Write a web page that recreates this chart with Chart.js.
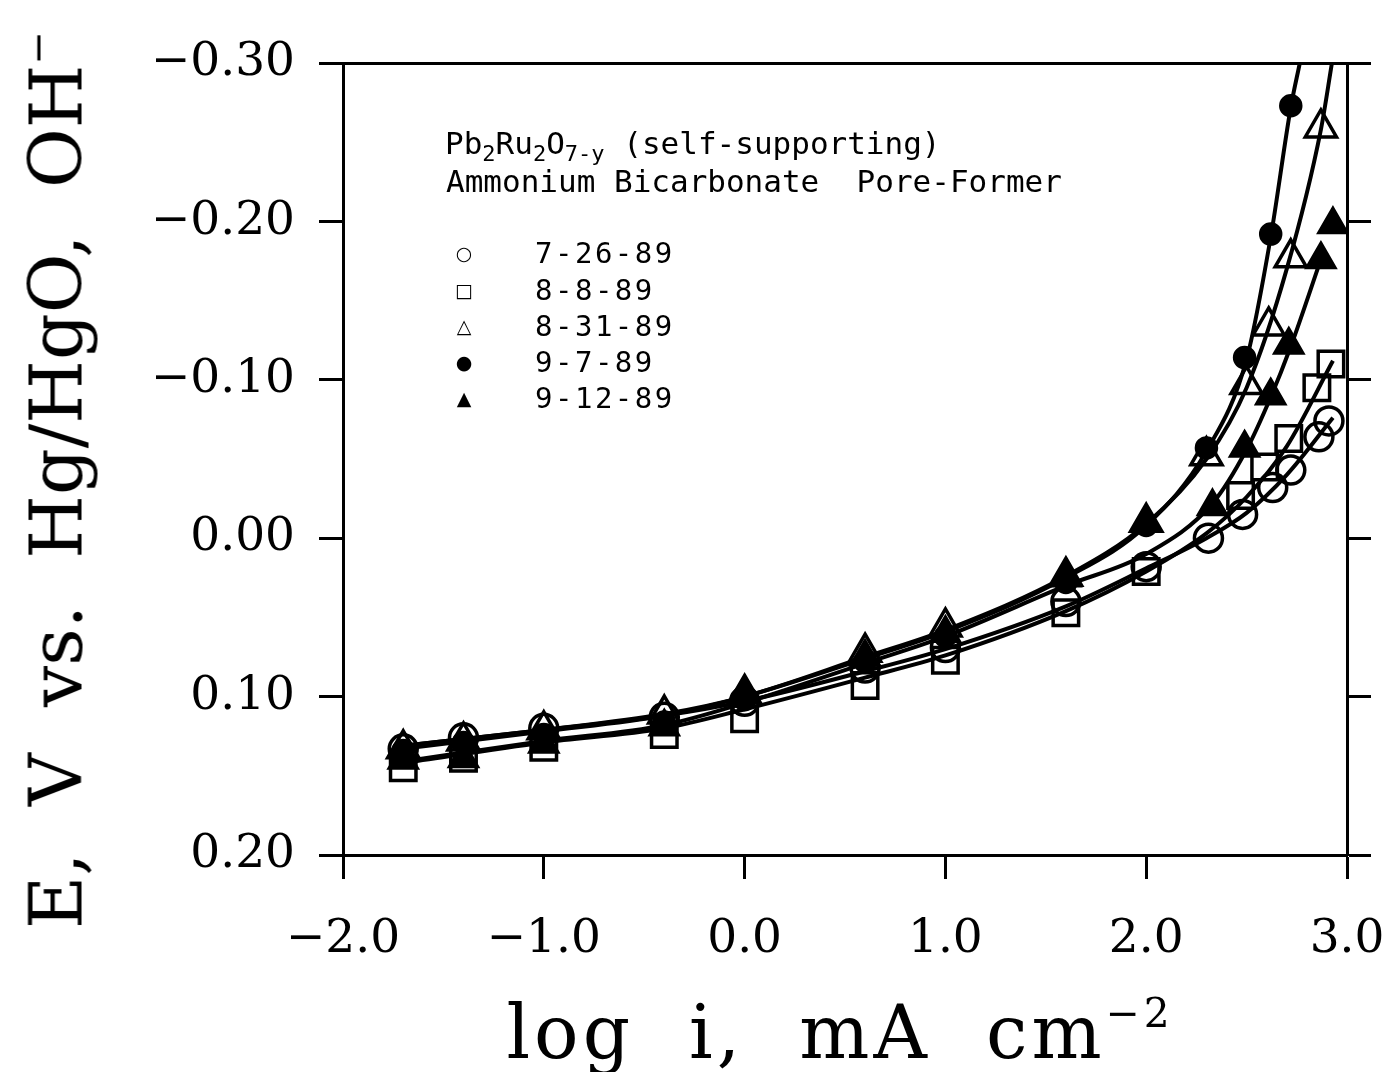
<!DOCTYPE html>
<html>
<head>
<meta charset="utf-8">
<script src="https://cdn.jsdelivr.net/npm/chart.js@4.4.0/dist/chart.umd.min.js"></script>
<style>
  body { margin: 0; background: #fff; }
  #wrap { position: relative; width: 1387px; height: 1072px; overflow: hidden; }
  #chart { position: absolute; left: 0; top: 0; }
  .note { position: absolute; font-family: 'DejaVu Sans Mono', monospace; font-size: 31px; color: #000; white-space: pre; line-height: 1; }
  .note sub { font-size: 22px; vertical-align: -7px; line-height: 0; }
  .key { position: absolute; left: 450px; font-family: 'DejaVu Sans Mono', monospace; font-size: 29px; letter-spacing: 2.5px; white-space: pre; line-height: 1; }
  .key .mk { display: inline-block; width: 28px; text-align: center; font-family: 'DejaVu Sans', sans-serif; font-size: 19px; letter-spacing: 0; margin-right: 57px; vertical-align: 3px; }
  #ytitle { position: absolute; left: 56px; top: 480px; transform: translate(-50%, -50%) rotate(-90deg); font-family: 'DejaVu Serif', serif; font-size: 73px; white-space: pre; line-height: 1; }
  #ytitle sup, #xtitle sup { font-size: 0.55em; vertical-align: 0.75em; line-height: 0; }
  #xtitle { position: absolute; left: 840px; top: 995px; transform: translateX(-50%); font-family: 'DejaVu Serif', serif; font-size: 74px; letter-spacing: 4px; white-space: pre; line-height: 1; }
</style>
</head>
<body>
<div id="wrap">
  <canvas id="chart" width="1387" height="1072"></canvas>
  <div id="ytitle">E,  V  vs.  Hg/HgO,  OH<sup>−</sup></div>
  <div id="xtitle">log  i,  mA  cm<sup>−2</sup></div>
  <div class="note" style="left:445px; top:128px;">Pb<sub>2</sub>Ru<sub>2</sub>O<sub>7-y</sub> (self-supporting)</div>
  <div class="note" style="left:446px; top:166px;">Ammonium Bicarbonate  Pore-Former</div>
  <div id="legend"></div>
</div>
<script>
// Series 7-26-89 (open circles)
const circX = [-1.7, -1.4, -1.0, -0.4, 0.0, 0.6, 1.0, 1.6, 2.0, 2.31, 2.48, 2.63, 2.72, 2.86, 2.91];
const circY = [0.133, 0.126, 0.120, 0.113, 0.103, 0.082, 0.069, 0.040, 0.018, 0.000, -0.015, -0.032, -0.043, -0.064, -0.074];
// Series 8-8-89 (open squares)
const sqX = [-1.7, -1.4, -1.0, -0.4, 0.0, 0.6, 1.0, 1.6, 2.0, 2.47, 2.59, 2.71, 2.85, 2.92];
const sqY = [0.145, 0.139, 0.132, 0.124, 0.114, 0.093, 0.077, 0.047, 0.021, -0.027, -0.045, -0.063, -0.095, -0.110];
// Series 8-31-89 (open triangles)
const triX = [-1.7, -1.4, -1.0, -0.4, 0.0, 0.6, 1.0, 1.6, 2.0, 2.3, 2.5, 2.61, 2.72, 2.87];
const triY = [0.133, 0.128, 0.121, 0.111, 0.098, 0.072, 0.056, 0.024, -0.010, -0.052, -0.097, -0.134, -0.177, -0.259];
// Series 9-7-89 (filled circles)
const dotX = [-1.7, -1.4, -1.0, -0.4, 0.0, 0.6, 1.0, 1.6, 2.0, 2.3, 2.49, 2.62, 2.72];
const dotY = [0.134, 0.129, 0.124, 0.116, 0.102, 0.078, 0.062, 0.028, -0.008, -0.057, -0.114, -0.192, -0.273];
// Series 9-12-89 (filled triangles)
const ftriX = [-1.7, -1.4, -1.0, -0.4, 0.0, 0.6, 1.0, 1.6, 2.0, 2.33, 2.49, 2.62, 2.71, 2.87, 2.93];
const ftriY = [0.140, 0.139, 0.130, 0.119, 0.098, 0.075, 0.060, 0.025, -0.010, -0.020, -0.057, -0.090, -0.122, -0.176, -0.198];

// Fitted curves
const circFitX = [-1.7, -1.0, -0.4, 0.0, 0.6, 1.0, 1.6, 2.0, 2.3, 2.5, 2.7, 2.93];
const circFitY = [0.131, 0.121, 0.112, 0.103, 0.084, 0.070, 0.043, 0.019, 0.000, -0.016, -0.040, -0.076];
const sqFitX = [-1.7, -1.0, -0.4, 0.0, 0.6, 1.0, 1.6, 2.0, 2.3, 2.5, 2.7, 2.93];
const sqFitY = [0.142, 0.129, 0.120, 0.108, 0.088, 0.074, 0.046, 0.021, -0.003, -0.026, -0.058, -0.112];
const triFitX = [-1.7, -1.0, -0.4, 0.0, 0.6, 1.0, 1.6, 2.0, 2.3, 2.5, 2.7, 2.87, 2.925];
const triFitY = [0.131, 0.121, 0.111, 0.100, 0.075, 0.058, 0.024, -0.009, -0.050, -0.095, -0.170, -0.258, -0.300];
const dotFitX = [-1.7, -1.0, -0.4, 0.0, 0.6, 1.0, 1.6, 2.0, 2.3, 2.5, 2.62, 2.72, 2.765];
const dotFitY = [0.133, 0.122, 0.112, 0.100, 0.076, 0.059, 0.025, -0.008, -0.055, -0.113, -0.190, -0.272, -0.300];
const ftriFitX = [-1.7, -1.0, -0.4, 0.0, 0.6, 1.0, 1.6, 2.0, 2.33, 2.5, 2.62, 2.72, 2.87];
const ftriFitY = [0.141, 0.128, 0.118, 0.104, 0.079, 0.062, 0.030, 0.010, -0.022, -0.056, -0.089, -0.121, -0.176];

const seriesLabels = ['7-26-89', '8-8-89', '8-31-89', '9-7-89', '9-12-89'];
const legendGlyphs = ['○', '□', '△', '●', '▲'];

// Axis ranges
const xMin = -2.0, xMax = 3.0, xStep = 1.0;
const yMin = -0.30, yMax = 0.20, yStep = 0.10;

function pts(xs, ys) {
    return xs.map((x, i) => ({ x: x, y: ys[i] }));
}

function markerSet(label, xs, ys, style, radius, filled) {
    return {
        type: 'scatter',
        label: label,
        data: pts(xs, ys),
        pointStyle: style,
        pointRadius: radius,
        pointBorderWidth: 3.5,
        pointBorderColor: '#000',
        pointBackgroundColor: filled ? '#000' : 'rgba(0,0,0,0)',
        showLine: false,
        order: 1
    };
}

function fitLine(xs, ys) {
    return {
        type: 'line',
        data: pts(xs, ys),
        borderColor: '#000',
        borderWidth: 4,
        pointRadius: 0,
        cubicInterpolationMode: 'monotone',
        fill: false,
        order: 2
    };
}

function fmt(v, d) {
    if (Math.abs(v) < 1e-9) v = 0;
    return v.toFixed(d).replace('-', '\u2212');
}

// Build the legend rows
const legendRows = [253, 290, 326, 362, 398];
document.getElementById('legend').innerHTML = seriesLabels.map((s, i) =>
    `<div class="key" style="top:${legendRows[i] - 14}px"><span class="mk">${legendGlyphs[i]}</span>${s}</div>`
).join('');

const axisGrid = {
    drawOnChartArea: false,
    drawTicks: true,
    tickLength: 24,
    tickWidth: 3,
    color: '#000'
};
const axisBorder = { display: true, width: 3, color: '#000' };
const tickFont = { family: "'DejaVu Serif', serif", size: 47 };

Chart.defaults.color = '#000';

new Chart(document.getElementById('chart').getContext('2d'), {
    type: 'scatter',
    data: {
        datasets: [
            markerSet(seriesLabels[0], circX, circY, 'circle', 14, false),
            markerSet(seriesLabels[1], sqX, sqY, 'rect', 18, false),
            markerSet(seriesLabels[2], triX, triY, 'triangle', 18, false),
            markerSet(seriesLabels[3], dotX, dotY, 'circle', 10, true),
            markerSet(seriesLabels[4], ftriX, ftriY, 'triangle', 16, true),
            fitLine(circFitX, circFitY),
            fitLine(sqFitX, sqFitY),
            fitLine(triFitX, triFitY),
            fitLine(dotFitX, dotFitY),
            fitLine(ftriFitX, ftriFitY)
        ]
    },
    options: {
        responsive: false,
        animation: false,
        layout: { padding: 0 },
        plugins: {
            legend: { display: false },
            tooltip: { enabled: false }
        },
        scales: {
            x: {
                type: 'linear',
                position: 'bottom',
                min: xMin,
                max: xMax,
                ticks: { stepSize: xStep, font: tickFont, padding: 33, callback: v => fmt(v, 1) },
                grid: axisGrid,
                border: axisBorder,
                afterFit: s => { s.height = 217; s.paddingLeft = 0; s.paddingRight = 0; }
            },
            x2: {
                type: 'linear',
                position: 'top',
                min: xMin,
                max: xMax,
                ticks: { display: false },
                grid: { display: false },
                border: axisBorder,
                afterFit: s => { s.height = 63; s.paddingLeft = 0; s.paddingRight = 0; }
            },
            y: {
                type: 'linear',
                position: 'left',
                min: yMin,
                max: yMax,
                reverse: true,
                ticks: { stepSize: yStep, font: tickFont, padding: 24, callback: v => fmt(v, 2) },
                grid: axisGrid,
                border: axisBorder,
                afterFit: s => { s.width = 343; s.paddingTop = 0; s.paddingBottom = 0; }
            },
            y2: {
                type: 'linear',
                position: 'right',
                min: yMin,
                max: yMax,
                reverse: true,
                ticks: { stepSize: yStep, display: false },
                grid: axisGrid,
                border: axisBorder,
                afterFit: s => { s.width = 40; s.paddingTop = 0; s.paddingBottom = 0; }
            }
        }
    }
});
</script>
</body>
</html>
